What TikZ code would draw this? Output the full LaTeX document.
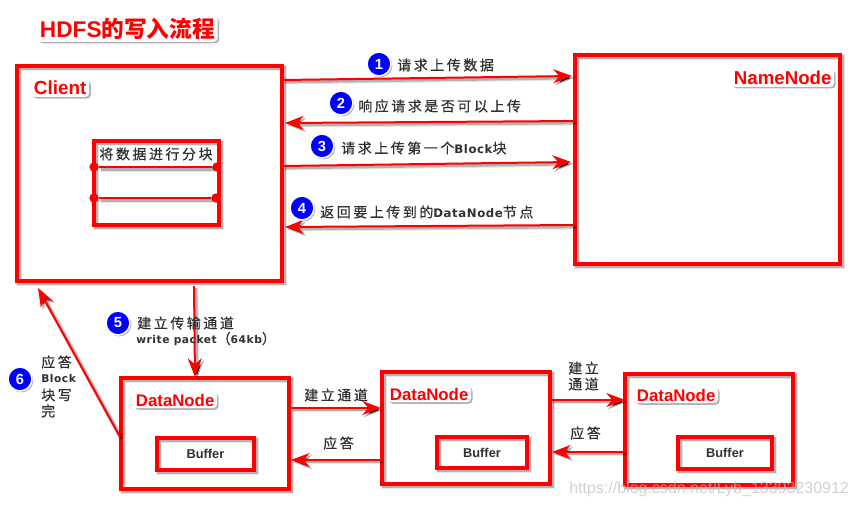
\documentclass[tikz,border=0pt]{standalone}
\usepackage{fontspec}
\usetikzlibrary{arrows.meta,calc}
\setmainfont{Noto Sans CJK SC}
\newfontfamily\cjk[LetterSpace=18,FakeBold=0.5]{Noto Sans CJK SC}
\newfontfamily\arial{Liberation Sans}
\newfontfamily\cjkb{Noto Sans CJK SC Bold}
\newfontfamily\latf[LetterSpace=5]{DejaVu Sans Bold}
\newcommand{\la}[1]{{\latf\fontsize{8pt}{10pt}\selectfont #1}}
\newcommand{\lab}[1]{{\latf\fontsize{8.8pt}{10pt}\selectfont #1}}
\def\PX{0.75pt}
\definecolor{ink}{HTML}{303030}
\definecolor{rd}{HTML}{FF0000}
\tikzset{
  softshadow/.style={
    preaction={draw=black,draw opacity=.10,line width=#1+2.2pt,transform canvas={shift={(1.5pt,-1.5pt)}}},
    preaction={draw=black,draw opacity=.22,line width=#1+.6pt,transform canvas={shift={(1.5pt,-1.5pt)}}}},
  box/.style={draw=rd,line width=2.4pt,softshadow=2.4pt,anchor=north west,inner sep=0pt,outer sep=0pt,rectangle},
  flow/.style={draw=rd,line width=1.5pt,softshadow=1.5pt,-{Stealth[length=14pt,width=10.5pt,inset=4.5pt]},shorten >=0pt},
  lbl/.style={anchor=west,inner sep=0pt,text=ink,font=\cjk\fontsize{10.5pt}{12pt}\selectfont},
  halo/.style={anchor=west,text=rd,fill=white,rounded corners=3pt,inner xsep=2pt,inner ysep=1.5pt,
    font=\arial\bfseries\fontsize{12.6pt}{14pt}\selectfont,
    preaction={fill=black,fill opacity=.3,transform canvas={shift={(1.2pt,-1.2pt)}}}},
  badge/.style={circle,fill=blue,draw=white,line width=1.2pt,minimum size=18pt,inner sep=0pt,text=white,
    font=\arial\bfseries\fontsize{11pt}{12pt}\selectfont,
    preaction={fill=black,fill opacity=.35,transform canvas={shift={(1pt,-1pt)}}}},
  joint/.style={circle,fill=rd,minimum size=7pt,inner sep=0pt},
  bufname/.style={text=ink,font=\arial\bfseries\fontsize{9.6pt}{11pt}\selectfont},
}
\begin{document}
\begin{tikzpicture}[x=0.75pt,y=-0.75pt]
\useasboundingbox (0,0) rectangle (859,508);
\fill[white] (0,0) rectangle (859,508);

% title
\node[halo,font=\arial\bfseries\fontsize{17pt}{19pt}\selectfont] (title) at (37,29) {HDFS{\cjkb 的写入流程}};

% main boxes
\node[box,minimum width=265*\PX,minimum height=215*\PX] (client) at (17,66) {};
\node[box,minimum width=265*\PX,minimum height=209*\PX] (namenode) at (575,55) {};
\node[halo,font=\arial\bfseries\fontsize{14.2pt}{16pt}\selectfont] (clientname) at (31,88) {Client};
\node[halo,font=\arial\bfseries\fontsize{14pt}{16pt}\selectfont] (nnname) at (731,78) {NameNode};

% block stack inside the client
\node[box,minimum width=125*\PX,minimum height=84*\PX] (block) at (94,141) {};
\node[lbl,anchor=center] (blocktext) at (156,154) {将数据进行分块};
\node[joint] (j1) at (94,167) {};
\node[joint] (j2) at (217,167) {};
\node[joint] (j3) at (94,198) {};
\node[joint] (j4) at (216,198) {};
\draw[draw=rd,line width=2.2pt,softshadow=2.2pt] (j1) -- (j2);
\draw[draw=rd,line width=2.2pt,softshadow=2.2pt] (j3) -- (j4);

% data nodes
\node[box,minimum width=168*\PX,minimum height=111*\PX] (dn1) at (121,378) {};
\node[box,minimum width=168*\PX,minimum height=112*\PX] (dn2) at (382,372) {};
\node[box,minimum width=168*\PX,minimum height=111*\PX] (dn3) at (625,374) {};
\node[box,minimum width=97*\PX,minimum height=32*\PX,bufname] (buf1) at (157,438) {Buffer};
\node[box,minimum width=90*\PX,minimum height=31*\PX,bufname] (buf2) at (437,437) {Buffer};
\node[box,minimum width=94*\PX,minimum height=32*\PX,bufname] (buf3) at (678,437) {Buffer};
\node[halo] (dn1name) at (133,400) {DataNode};
\node[halo] (dn2name) at (387,394) {DataNode};
\node[halo] (dn3name) at (634,395) {DataNode};

% connectors
\draw[flow] ($(client.north east)+(1,14)$) -- ($(namenode.north west)+(-3,21)$);
\draw[flow] ($(namenode.north west)+(0,66)$) -- ($(client.north east)+(3,57)$);
\draw[flow] ($(client.north east)+(1,100)$) -- ($(namenode.north west)+(-4,107)$);
\draw[flow] ($(namenode.north west)+(0,170)$) -- ($(client.north east)+(3,161)$);
\draw[flow] ($(client.south west)+(177,5)$) -- ($(dn1.north west)+(74,-1)$);
\draw[flow] ($(dn1.north west)+(-1,59)$) -- ($(client.south west)+(21,7)$);
\draw[flow] ($(dn1.north east)+(2,30)$) -- ($(dn2.north west)+(-1,36)$);
\draw[flow] ($(dn2.north west)+(-1,88)$) -- ($(dn1.north east)+(2,82)$);
\draw[flow] ($(dn2.north east)+(1,28)$) -- ($(dn3.north west)+(0,26)$);
\draw[flow] ($(dn3.north west)+(0,78)$) -- ($(dn2.north east)+(2,80)$);

% numbered badges
\node[badge] (n1) at (379,64) {1};
\node[badge] (n2) at (341,103) {2};
\node[badge] (n3) at (322,146) {3};
\node[badge] (n4) at (302,208) {4};
\node[badge] (n5) at (118,323) {5};
\node[badge] (n6) at (20,379) {6};

% labels
\node[lbl] (t1) at (397,65) {请求上传数据};
\node[lbl] (t2) at (358,106) {响应请求是否可以上传};
\node[lbl] (t3) at (341,148) {请求上传第一个\lab{Block}块};
\node[lbl] (t4) at (320,212) {返回要上传到的\lab{DataNode}节点};
\node[lbl] (t5) at (137,323) {建立传输通道};
\node[lbl] (t5b) at (136,339) {\la{write packet}（\la{64kb}）};
\node[lbl] (t6a) at (41,362) {应答};
\node[lbl] (t6b) at (41,379) {\la{Block}};
\node[lbl] (t6c) at (41,395) {块写};
\node[lbl] (t6d) at (41,411) {完};
\node[lbl] (t7) at (304,395) {建立通道};
\node[lbl] (t8) at (323,443) {应答};
\node[lbl] (t9a) at (568,368) {建立};
\node[lbl] (t9b) at (568,384) {通道};
\node[lbl] (t10) at (570,433) {应答};

% watermark
\node[anchor=west,inner sep=0pt,text=black!25,opacity=.7,font=\arial\fontsize{12pt}{14pt}\selectfont] (mark) at (569,489) {https://blog.csdn.net/Lyb\_13393230912};
\end{tikzpicture}
\end{document}
